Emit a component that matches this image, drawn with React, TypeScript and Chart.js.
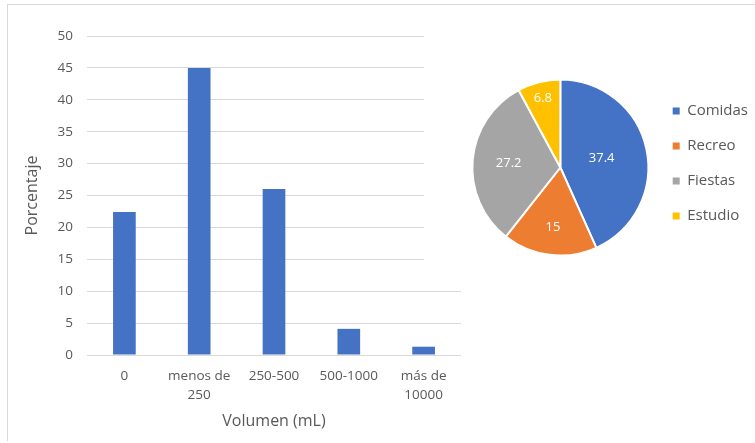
import React, { useEffect, useRef } from "react";
import { Chart, registerables } from "chart.js";

Chart.register(...registerables);

// Bar chart: share of people by drink volume
const volumeCategories: (string | string[])[] = ["0", ["menos de", "250"], "250-500", "500-1000", ["más de", "10000"]];
const volumePercent = [22.4, 45.0, 26.0, 4.1, 1.3];
const yTicks = [0, 5, 10, 15, 20, 25, 30, 35, 40, 45, 50];

// Pie chart: occasions
const occasionLabels = ["Comidas", "Recreo", "Fiestas", "Estudio"];
const occasionValues = [37.4, 15, 27.2, 6.8];
const occasionColors = ["#4472C4", "#ED7D31", "#A5A5A5", "#FFC000"];

// radial placement of the value labels inside each slice (fraction of radius)
const sliceLabelRadius = [0.48, 0.68, 0.59, 0.81];

const FONT = '"Open Sans", "Noto Sans", sans-serif';
const TEXT = "#595959";
const GRID = "#D9D9D9";

const pieValueLabels = {
  id: "pieValueLabels",
  afterDatasetsDraw(chart: any) {
    const meta = chart.getDatasetMeta(0);
    const ctx = chart.ctx;
    ctx.save();
    ctx.font = `13px ${FONT}`;
    ctx.fillStyle = "#FFFFFF";
    ctx.textAlign = "center";
    ctx.textBaseline = "middle";
    meta.data.forEach((arc: any, i: number) => {
      const { x, y, startAngle, endAngle, outerRadius } = arc.getProps(
        ["x", "y", "startAngle", "endAngle", "outerRadius"],
        true
      );
      const mid = (startAngle + endAngle) / 2;
      const r = outerRadius * sliceLabelRadius[i];
      ctx.fillText(String(occasionValues[i]), x + Math.cos(mid) * r, y + Math.sin(mid) * r);
    });
    ctx.restore();
  },
};

// nudges the legend block a little above the pie's centre line
const legendLift = {
  id: "legendLift",
  afterLayout(chart: any) {
    const lg = chart.legend;
    if (lg) {
      lg.top -= 4;
      lg.bottom -= 4;
    }
  },
};

export default function App() {
  const barRef = useRef<HTMLCanvasElement>(null);
  const pieRef = useRef<HTMLCanvasElement>(null);

  useEffect(() => {
    const bar = new Chart(barRef.current!, {
      type: "bar",
      data: {
        labels: volumeCategories,
        datasets: [
          {
            data: volumePercent,
            backgroundColor: "#4472C4",
            categoryPercentage: 1,
            barPercentage: 0.303,
          },
        ],
      },
      options: {
        responsive: false,
        animation: false,
        layout: { padding: { top: 36, right: 294, bottom: 0, left: 0 } },
        plugins: { legend: { display: false }, tooltip: { enabled: false } },
        scales: {
          x: {
            grid: { display: false, drawTicks: false },
            border: { display: false },
            ticks: {
              color: TEXT,
              font: { family: FONT, size: 13.5, lineHeight: 1.4 },
              padding: 12,
              maxRotation: 0,
              autoSkip: false,
            },
            title: {
              display: true,
              text: "Volumen (mL)",
              color: TEXT,
              font: { family: FONT, size: 16 },
              padding: { top: 0, bottom: 12 },
            },
            afterFit(scale: any) {
              scale.height = 88;
            },
          },
          y: {
            min: 0,
            max: 50,
            grid: { color: GRID, drawTicks: false },
            border: { display: false },
            afterBuildTicks(scale: any) {
              scale.ticks = yTicks.map((v) => ({ value: v }));
            },
            ticks: {
              color: TEXT,
              font: { family: FONT, size: 13.5 },
              padding: 14,
            },
            title: {
              display: true,
              text: "Porcentaje",
              color: TEXT,
              font: { family: FONT, size: 16 },
              padding: { top: 23, bottom: 0 },
            },
            afterFit(scale: any) {
              scale.width = 87;
            },
          },
        },
      },
    });

    const baseLabels = (Chart as any).overrides.pie.plugins.legend.labels.generateLabels;
    const pie = new Chart(pieRef.current!, {
      type: "pie",
      data: {
        labels: occasionLabels,
        datasets: [
          {
            data: occasionValues,
            backgroundColor: occasionColors,
            borderColor: "#FFFFFF",
            borderWidth: 2,
            radius: 88,
          } as any,
        ],
      },
      options: {
        responsive: false,
        animation: false,
        layout: { padding: { top: 57, right: 0, bottom: 2, left: 44 } },
        plugins: {
          tooltip: { enabled: false },
          legend: {
            position: "right",
            labels: {
              boxWidth: 7,
              boxHeight: 7,
              padding: 20,
              color: TEXT,
              font: { family: FONT, size: 15 },
              generateLabels(chart: any) {
                return baseLabels(chart).map((l: any) => ({ ...l, lineWidth: 0, strokeStyle: "rgba(0,0,0,0)" }));
              },
            },
          },
        },
      },
      plugins: [pieValueLabels, legendLift],
    });

    return () => {
      bar.destroy();
      pie.destroy();
    };
  }, []);

  return (
    <div
      style={{
        position: "absolute",
        left: 0,
        top: 0,
        width: 755,
        height: 443,
        background: "#FFFFFF",
        overflow: "hidden",
      }}
    >
      <canvas ref={barRef} width={755} height={443} style={{ position: "absolute", left: 0, top: 0, width: 755, height: 443 }} />
      <canvas
        ref={pieRef}
        width={334}
        height={270}
        style={{ position: "absolute", left: 424, top: 5, width: 334, height: 270, background: "#FFFFFF" }}
      />
      <div
        style={{
          position: "absolute",
          left: 7,
          top: 4,
          width: 748,
          height: 437,
          borderTop: `1px solid ${GRID}`,
          borderLeft: `1px solid ${GRID}`,
          boxSizing: "border-box",
          pointerEvents: "none",
        }}
      />
    </div>
  );
}
